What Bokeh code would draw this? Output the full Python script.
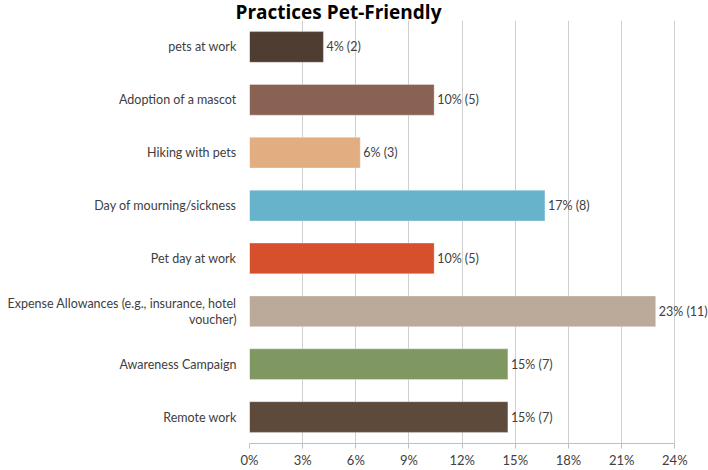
from bokeh.plotting import figure
from bokeh.models import ColumnDataSource, FixedTicker, PrintfTickFormatter, Range1d, LabelSet
from bokeh.core.properties import value
from bokeh.embed import file_html
from bokeh.resources import INLINE

# categories listed top-to-bottom as in the chart
categories = [
    "pets at work",
    "Adoption of a mascot",
    "Hiking with pets",
    "Day of mourning/sickness",
    "Pet day at work",
    "Expense Allowances (e.g., insurance, hotel\nvoucher)",
    "Awareness Campaign",
    "Remote work",
]
percents = [4.17, 10.42, 6.25, 16.67, 10.42, 22.92, 14.58, 14.58]
counts = [2, 5, 3, 8, 5, 11, 7, 7]
colors = ["#4e3d30", "#8a6254", "#e2ad80", "#67b3cc", "#d5502b", "#bba99a", "#7f9862", "#5d4a3b"]
x_ticks = [0, 3, 6, 9, 12, 15, 18, 21, 24]

labels = ["%d%% (%d)" % (round(p), c) for p, c in zip(percents, counts)]

source = ColumnDataSource(dict(cat=categories, pct=percents, color=colors, label=labels))

FONT = "Lato"
TXT = "#404040"

p = figure(
    width=708, height=470,
    y_range=list(reversed(categories)),
    x_range=Range1d(0, 25.9),
    output_backend="svg", toolbar_location=None,
    min_border_left=249, min_border_right=0, min_border_top=0, min_border_bottom=0,
    title="Practices Pet-Friendly",
)
p.title.text_font = "Open Sans"
p.title.text_font_size = "19px"
p.title.text_font_style = "bold"
p.title.text_color = "#000000"
p.title.align = "left"
p.title.offset = -14
p.title.standoff = -8
p.title.text_line_height = 0.8

p.hbar(y="cat", right="pct", left=0, height=0.58, color="color", line_color="white",
       line_alpha=0.3, source=source)
p.add_layout(LabelSet(x="pct", y="cat", text="label", source=source, x_offset=3,
                      text_baseline="middle", text_align="left", text_font=value(FONT),
                      text_font_size="12.5px", text_color=TXT))

p.outline_line_color = None
p.ygrid.grid_line_color = None
p.xgrid.grid_line_color = "#cfcfcf"
p.xgrid.grid_line_width = 1
p.xaxis.ticker = FixedTicker(ticks=x_ticks)
p.xgrid.ticker = FixedTicker(ticks=x_ticks)
p.xaxis.bounds = (0, 24)
p.xaxis.formatter = PrintfTickFormatter(format="%d%%")
p.xaxis.axis_line_color = "#bfbfbf"
p.xaxis.major_tick_line_color = "#bfbfbf"
p.xaxis.major_tick_out = 5
p.xaxis.major_tick_in = 0
p.xaxis.minor_tick_line_color = None
p.xaxis.major_label_standoff = 3
p.xaxis.axis_label_standoff = 0
p.xaxis.major_label_text_font = FONT
p.xaxis.major_label_text_font_size = "13px"
p.xaxis.major_label_text_color = TXT

p.yaxis.axis_line_color = None
p.yaxis.major_tick_line_color = None
p.yaxis.minor_tick_line_color = None
p.yaxis.major_label_standoff = 7
p.yaxis.major_label_text_font = FONT
p.yaxis.major_label_text_font_size = "12.5px"
p.yaxis.major_label_text_line_height = 1.1
p.yaxis.major_label_text_color = TXT
p.yaxis.major_label_text_align = "right"

open("out.html", "w").write(file_html(p, INLINE))
